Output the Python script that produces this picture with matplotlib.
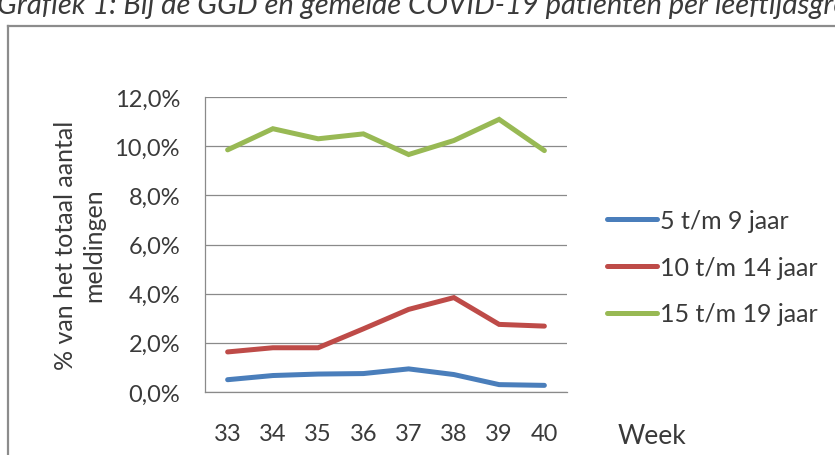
import matplotlib
matplotlib.use("Agg")
import matplotlib.pyplot as plt
from matplotlib.lines import Line2D
from matplotlib.ticker import FuncFormatter

plt.rcParams["font.family"] = ["Lato", "DejaVu Sans"]

WEEKS = [33, 34, 35, 36, 37, 38, 39, 40]
AGE_5_9 = [0.50, 0.67, 0.73, 0.75, 0.94, 0.71, 0.30, 0.27]
AGE_10_14 = [1.63, 1.80, 1.80, 2.57, 3.36, 3.84, 2.75, 2.68]
AGE_15_19 = [9.85, 10.71, 10.30, 10.50, 9.66, 10.23, 11.09, 9.82]
SERIES_LABELS = ["5 t/m 9 jaar", "10 t/m 14 jaar", "15 t/m 19 jaar"]
Y_TICKS = [0, 2, 4, 6, 8, 10, 12]

TEXT = "#3a3a3a"
GRID = "#8a8a8a"
COLORS = ["#4a7ebb", "#be4b48", "#98b954"]

W, H = 835, 456
fig = plt.figure(figsize=(W / 100, H / 100), dpi=100)
fig.patch.set_facecolor("white")

# plot area in pixel terms: x 205..567, y 98..393
ax = fig.add_axes([205 / W, 1 - 393 / H, (567 - 205) / W, (393 - 98) / H])

for vals, col, lab in zip([AGE_5_9, AGE_10_14, AGE_15_19], COLORS, SERIES_LABELS):
    ax.plot(WEEKS, vals, color=col, lw=3.6, label=lab, solid_capstyle="round",
            solid_joinstyle="miter", zorder=3)

ax.set_xlim(WEEKS[0] - 0.5, WEEKS[-1] + 0.5)
ax.set_ylim(0, 12)
ax.set_yticks(Y_TICKS)
ax.yaxis.set_major_formatter(FuncFormatter(lambda v, _: f"{v:.1f}%".replace(".", ",")))
ax.set_xticks(WEEKS)
ax.grid(axis="y", color=GRID, lw=0.9)
ax.set_axisbelow(True)
for s in ["top", "right"]:
    ax.spines[s].set_visible(False)
ax.spines["left"].set_color(GRID)
ax.spines["left"].set_linewidth(0.9)
ax.spines["bottom"].set_color(GRID)
ax.spines["bottom"].set_linewidth(0.9)
ax.tick_params(length=0, labelsize=17, colors=TEXT)
ax.tick_params(axis="y", pad=18)
ax.tick_params(axis="x", pad=22)

ax.set_ylabel("% van het totaal aantal\nmeldingen", fontsize=18, color=TEXT,
              linespacing=1.3)
ax.yaxis.set_label_coords(-0.275, 0.5)

fig.text(618 / W, 1 - 444 / H, "Week", fontsize=19, color=TEXT, ha="left", va="baseline")

leg = fig.legend(loc="upper left", bbox_to_anchor=(597 / W, 1 - 200 / H), frameon=False,
                 fontsize=18, handlelength=2.0, handletextpad=0.1, labelspacing=0.95,
                 borderaxespad=0)
for t in leg.get_texts():
    t.set_color(TEXT)

# title, clipped at the top as in the scan
fig.text(-3 / W, 1 - 14 / H, "Grafiek 1: Bij de GGD en gemelde COVID-19 patiënten per leeftijdsgroep",
         fontsize=21, style="italic", color=TEXT, ha="left", va="baseline")

# chart frame
fig.add_artist(Line2D([8 / W, 8 / W], [0, 1 - 27 / H], color="#8c8c8c", lw=1.6,
                      transform=fig.transFigure))
fig.add_artist(Line2D([8 / W, 1], [1 - 27 / H, 1 - 27 / H], color="#8c8c8c", lw=1.6,
                      transform=fig.transFigure))

fig.savefig("out.png", dpi=100, facecolor="white")
